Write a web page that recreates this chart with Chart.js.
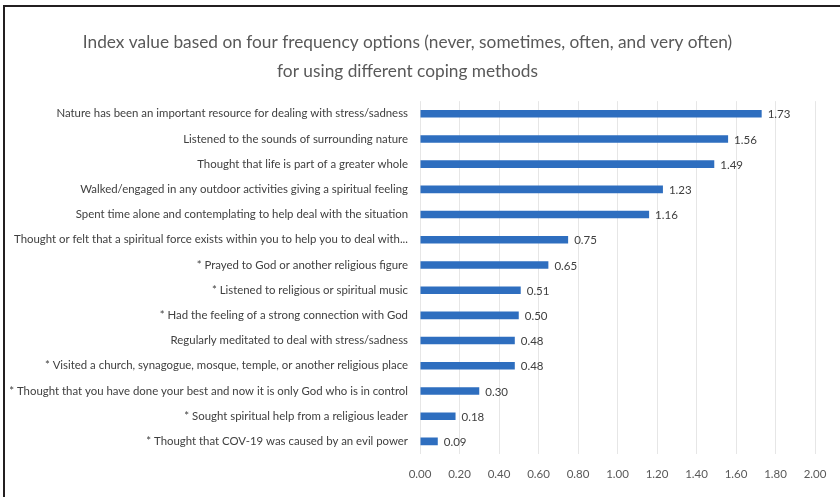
<!DOCTYPE html>
<html>
<head>
<meta charset="utf-8">
<script src="https://cdn.jsdelivr.net/npm/chart.js@4.4.0/dist/chart.umd.min.js"></script>
<style>
    body { margin: 0; background: #fff; }
    #wrap { position: relative; width: 840px; height: 497px; }
    #frame {
        position: absolute; left: 3px; top: 5px; right: 0; bottom: 0;
        border-top: 2px solid #231f20; border-left: 2px solid #231f20;
        pointer-events: none;
    }
</style>
</head>
<body>
<div id="wrap">
    <canvas id="chart" width="840" height="497"></canvas>
    <div id="frame"></div>
</div>
<script>
const FONT = "Lato, sans-serif";

const titleLines = [
    "Index value based on four frequency options (never, sometimes, often, and very often)",
    "for using different coping methods"
];

const methods = [
    "Nature has been an important resource for dealing with stress/sadness",
    "Listened to the sounds of surrounding nature",
    "Thought that life is part of a greater whole",
    "Walked/engaged in any outdoor activities giving a spiritual feeling",
    "Spent time alone and contemplating to help deal with the situation",
    "Thought or felt that a spiritual force exists within you to help you to deal with...",
    "* Prayed to God or another religious figure",
    "* Listened to religious or spiritual music",
    "* Had the feeling of a strong connection with God",
    "Regularly meditated to deal with stress/sadness",
    "* Visited a church, synagogue, mosque, temple, or another religious place",
    "* Thought that you have done your best and now it is only God who is in control",
    "* Sought spiritual help from a religious leader",
    "* Thought that COV-19 was caused by an evil power"
];

const indexValues = [1.73, 1.56, 1.49, 1.23, 1.16, 0.75, 0.65, 0.51, 0.50, 0.48, 0.48, 0.30, 0.18, 0.09];

const xMin = 0, xMax = 2, xStep = 0.2;

// value labels at the end of each bar
const valueLabels = {
    id: "valueLabels",
    afterDatasetsDraw(chart) {
        const ctx = chart.ctx;
        const meta = chart.getDatasetMeta(0);
        ctx.save();
        ctx.font = "11.5px " + FONT;
        ctx.fillStyle = "#404040";
        ctx.textAlign = "left";
        ctx.textBaseline = "middle";
        meta.data.forEach((bar, i) => {
            ctx.fillText(indexValues[i].toFixed(2), bar.x + 6, bar.y + 1);
        });
        ctx.restore();
    }
};

new Chart(document.getElementById("chart").getContext("2d"), {
    type: "bar",
    data: {
        labels: methods,
        datasets: [{
            data: indexValues,
            backgroundColor: "#2e6ebf",
            barPercentage: 0.6,
            categoryPercentage: 0.5
        }]
    },
    options: {
        indexAxis: "y",
        responsive: false,
        animation: false,
        layout: { padding: { top: 28, left: 0, right: 25, bottom: 0 } },
        plugins: {
            legend: { display: false },
            tooltip: { enabled: false },
            title: {
                display: true,
                text: titleLines,
                color: "#595959",
                font: { family: FONT, size: 17.3, weight: "normal", lineHeight: 1.68 },
                padding: { top: 0, bottom: 15 }
            }
        },
        scales: {
            x: {
                min: xMin,
                max: xMax,
                grid: { color: "#e6e6e6", drawTicks: false },
                border: { display: false },
                ticks: {
                    stepSize: xStep,
                    padding: 13,
                    color: "#595959",
                    font: { family: FONT, size: 11.5 },
                    callback: v => v.toFixed(2)
                },
                afterFit: s => { s.height = 43; }
            },
            y: {
                grid: { display: false, drawTicks: false },
                border: { display: false },
                ticks: {
                    padding: 12,
                    autoSkip: false,
                    color: "#404040",
                    font: { family: FONT, size: 11.4 }
                },
                afterFit: s => { s.width = 420; }
            }
        }
    },
    plugins: [valueLabels]
});
</script>
</body>
</html>
